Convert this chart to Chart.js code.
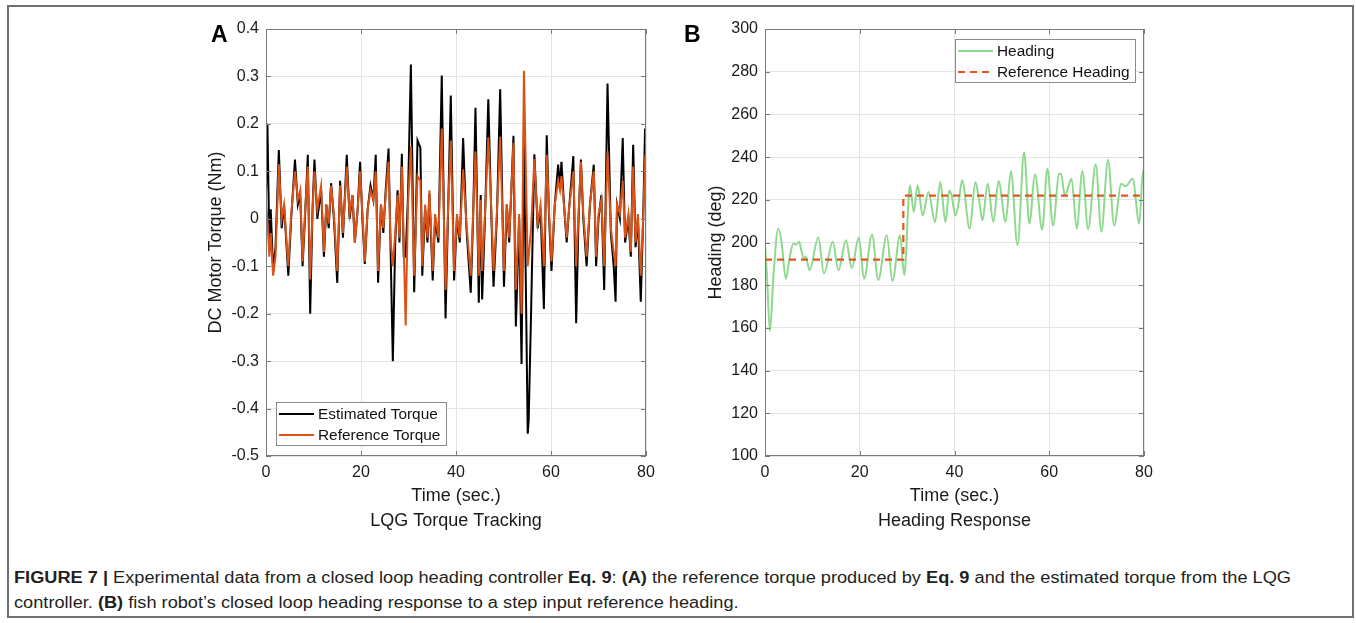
<!DOCTYPE html>
<html>
<head>
<meta charset="utf-8">
<script src="https://cdn.jsdelivr.net/npm/chart.js@4.4.1/dist/chart.umd.min.js"></script>
<style>
html,body{margin:0;padding:0;background:#fff;}
body{width:1356px;height:623px;position:relative;overflow:hidden;font-family:"Liberation Sans",Arial,sans-serif;}
#frame{position:absolute;left:7px;top:5px;width:1347px;height:613px;border:2px solid #707070;box-sizing:border-box;}
canvas{position:absolute;top:0;}
.panel{position:absolute;font-weight:bold;font-size:23px;line-height:23px;color:#000;}
.cap{position:absolute;left:14px;font-size:16px;line-height:20px;white-space:nowrap;color:#231f20;transform-origin:0 50%;}
.cap b{font-weight:bold;}
</style>
</head>
<body>
<div id="frame"></div>
<canvas id="chartA" width="500" height="540" style="left:180px"></canvas>
<canvas id="chartB" width="500" height="540" style="left:680px"></canvas>
<div class="panel" style="left:211px;top:23px">A</div>
<div class="panel" style="left:684px;top:23px">B</div>
<div id="cap1" class="cap" style="top:568px"><b>FIGURE 7 |</b> Experimental data from a closed loop heading controller <b>Eq. 9</b>: <b>(A)</b> the reference torque produced by <b>Eq. 9</b> and the estimated torque from the LQG</div>
<div id="cap2" class="cap" style="top:593px">controller. <b>(B)</b> fish robot’s closed loop heading response to a step input reference heading.</div>
<script>
// ---------- data ----------
const timeTicks = [0, 20, 40, 60, 80];
const torqueTicks = [-0.5, -0.4, -0.3, -0.2, -0.1, 0, 0.1, 0.2, 0.3, 0.4];
const headingTicks = [100, 120, 140, 160, 180, 200, 220, 240, 260, 280, 300];

const timeTorque = [0,0.3,0.7,1.0,1.5,2.0,2.7,3.3,3.8,4.7,5.3,6.1,6.7,7.2,7.7,8.2,8.8,9.3,9.8,10.2,10.8,11.6,12.2,12.7,13.2,13.7,14.3,15.0,15.6,16.2,17.0,17.6,18.2,18.7,19.3,19.8,20.3,20.8,21.4,22.0,22.6,23.1,23.6,24.2,24.7,25.2,25.8,26.2,26.7,27.2,27.7,28.1,28.6,29.0,29.4,29.9,30.5,31.2,31.9,32.5,32.9,33.5,34.0,34.4,35.1,35.6,36.3,37.0,37.8,38.3,38.9,39.6,40.2,40.8,41.5,42.2,43.1,43.6,44.1,44.8,45.2,45.5,46.1,46.8,47.4,47.9,48.6,49.3,50.1,50.7,51.2,52.1,52.6,53.3,53.8,54.3,55.1,55.3,55.8,56.5,57.2,57.8,58.5,59.1,59.6,60.1,60.8,61.5,61.9,62.2,62.8,63.3,63.8,64.7,65.3,65.8,66.3,66.8,67.5,68.2,69.0,69.5,70.0,70.6,71.2,71.9,72.6,73.2,73.6,73.9,74.5,75.1,75.6,76.3,76.8,77.3,77.8,78.3,78.9,79.4,79.8,80.0];
const estimatedTorque = [0.05,0.20,-0.05,0.02,-0.11,-0.06,0.145,-0.02,0.03,-0.12,0.00,0.125,0.03,0.05,-0.10,0.00,0.135,-0.20,0.02,0.125,0.00,0.06,-0.08,0.03,-0.02,0.075,0.00,-0.135,0.08,-0.04,0.135,0.00,0.05,-0.05,0.02,0.12,0.00,-0.095,0.02,0.07,0.04,0.135,-0.135,0.03,-0.03,0.06,0.148,-0.05,-0.30,-0.05,0.06,-0.05,0.137,-0.08,-0.08,0.05,0.325,-0.155,0.165,0.15,-0.12,0.02,-0.05,0.053,-0.13,0.00,-0.05,0.302,-0.21,0.00,0.26,-0.13,0.00,-0.05,0.17,-0.02,-0.156,0.00,0.234,-0.177,0.05,-0.17,0.00,0.252,0.02,-0.143,0.00,0.273,-0.143,0.03,-0.05,0.175,-0.227,0.00,-0.306,0.185,-0.453,-0.425,-0.20,0.136,-0.02,0.02,-0.19,0.176,0.00,-0.11,0.03,0.114,0.07,0.12,0.02,-0.05,0.02,0.132,-0.22,0.00,0.125,0.00,-0.10,0.03,0.114,-0.10,0.00,0.05,-0.15,0.285,-0.03,-0.10,-0.175,0.03,0.00,0.17,-0.05,0.00,-0.08,0.156,-0.06,0.00,-0.175,0.00,0.19,0.16];
const referenceTorque = [0.03,0.00,-0.08,-0.03,-0.12,-0.08,0.115,0.00,0.03,-0.10,0.01,0.10,0.04,0.06,-0.09,0.01,0.11,-0.128,0.02,0.10,0.02,0.07,-0.07,0.03,-0.01,0.07,0.01,-0.11,0.07,-0.03,0.11,0.01,0.05,-0.05,0.02,0.10,0.01,-0.09,0.02,0.06,0.04,0.10,-0.11,0.03,-0.02,0.05,0.12,-0.04,-0.10,-0.03,0.05,-0.04,0.11,-0.06,-0.225,0.03,0.153,-0.12,0.09,0.08,-0.10,0.03,-0.04,0.06,-0.11,0.01,-0.04,0.19,-0.15,0.01,0.165,-0.11,0.01,-0.04,0.104,-0.01,-0.12,0.01,0.142,-0.12,0.04,-0.11,0.01,0.172,0.03,-0.11,0.01,0.173,-0.11,0.03,-0.04,0.16,-0.15,0.01,-0.20,0.312,-0.10,-0.08,-0.02,0.126,-0.01,0.03,-0.10,0.135,0.01,-0.09,0.03,0.08,0.06,0.09,0.02,-0.04,0.02,0.10,-0.10,0.01,0.12,0.01,-0.08,0.03,0.10,-0.08,0.01,0.04,-0.10,0.142,-0.02,-0.07,-0.10,0.03,0.01,0.08,-0.04,0.01,-0.07,0.11,-0.05,0.01,-0.12,0.00,0.12,0.11];

const timeHeading = [0,0.4,1.05,1.8,2.8,3.5,4.4,5.2,6.0,6.6,7.2,7.7,8.2,8.6,9.4,11.25,12.45,14.3,15.5,17.1,18.3,19.8,20.9,22.6,23.9,25.7,26.9,28.5,29.4,30.6,31.4,32.2,33.3,34.5,35.9,37.0,38.1,38.9,39.4,40.2,40.9,41.6,43.2,44.4,45.1,45.9,47.0,48.2,49.3,50.8,51.9,53.3,54.7,55.8,57.0,58.5,59.6,60.8,62.1,62.5,63.3,64.7,65.8,67.0,68.2,69.8,71.0,72.4,73.7,75.2,76.1,77.6,79.0,79.8,80.0];
const heading = [199.5,185,158.5,185,206.5,200,183,193,199.5,199,200.3,196,192.5,193.5,187,202.3,185.5,200.3,187,201,188,202.3,183,203.7,182.4,203.4,182,203.4,184.7,226.8,214.3,226.8,212.7,223.6,209.6,228.3,209.6,224.4,222,212.7,219,229.1,206.5,228.3,221.3,210.4,227.5,209.6,228.8,209.6,233.5,198.7,242.3,208.8,231.9,206,234.5,208,232.2,232,222,229.9,206.5,233.5,206.2,236.6,205,238.8,208,227.5,226.3,229.9,208.8,233.8,232];
const timeRefHeading = [0, 29.2, 29.2, 80];
const refHeading = [192, 192, 222, 222];

// ---------- helpers ----------
const FONT = '"Liberation Sans", Arial, sans-serif';
const pts = (xs, ys) => xs.map((x, i) => ({x: x, y: ys[i]}));

const matlabBox = {
  id: 'matlabBox',
  afterDatasetsDraw(chart, args, opts) {
    const {ctx, chartArea: a, scales: {x, y}} = chart;
    ctx.save();
    ctx.lineWidth = 1;
    ctx.strokeStyle = '#7a7a7a';
    ctx.setLineDash([]);
    ctx.strokeRect(Math.round(a.left) + 0.5, Math.round(a.top) + 0.5, Math.round(a.right - a.left) - 1, Math.round(a.bottom - a.top) - 1);
    ctx.beginPath();
    x.ticks.forEach(t => {
      const px = Math.round(x.getPixelForValue(t.value)) + 0.5;
      ctx.moveTo(px, a.bottom); ctx.lineTo(px, a.bottom - 5);
      ctx.moveTo(px, a.top); ctx.lineTo(px, a.top + 5);
    });
    y.ticks.forEach(t => {
      const py = Math.round(y.getPixelForValue(t.value)) + 0.5;
      ctx.moveTo(a.left, py); ctx.lineTo(a.left + 5, py);
      ctx.moveTo(a.right, py); ctx.lineTo(a.right - 5, py);
    });
    ctx.stroke();
    // legend box (MATLAB style)
    const bw = opts.width, bh = 43;
    let bx, by;
    if (opts.corner === 'sw') { bx = Math.round(a.left + 10); by = Math.round(a.bottom - 11 - bh); }
    else { bx = Math.round(a.right - 9 - bw); by = Math.round(a.top + 10); }
    ctx.fillStyle = '#fff';
    ctx.fillRect(bx, by, bw, bh);
    ctx.strokeStyle = '#8a8a8a';
    ctx.strokeRect(bx + 0.5, by + 0.5, bw, bh);
    chart.data.datasets.forEach((ds, i) => {
      const ry = by + 12 + i * 21;
      ctx.strokeStyle = ds.borderColor;
      ctx.lineWidth = ds.borderWidth;
      ctx.setLineDash(ds.borderDash || []);
      ctx.beginPath(); ctx.moveTo(bx + 3, ry); ctx.lineTo(bx + 38, ry); ctx.stroke();
      ctx.setLineDash([]);
      ctx.fillStyle = '#111';
      ctx.font = '15.4px ' + FONT;
      ctx.textBaseline = 'middle';
      ctx.textAlign = 'left';
      ctx.fillText(ds.label, bx + 42, ry + 1);
    });
    ctx.restore();
  }
};

function makeOptions(cfg) {
  return {
    responsive: false,
    animation: false,
    devicePixelRatio: 1,
    layout: {padding: {top: 29, right: cfg.padRight, left: 0, bottom: 0}},
    plugins: {legend: {display: false}, tooltip: {enabled: false}, matlabBox: cfg.legend},
    elements: {point: {radius: 0}},
    scales: {
      x: {
        type: 'linear', min: 0, max: 80,
        afterBuildTicks: s => { s.ticks = timeTicks.map(v => ({value: v})); },
        afterFit: s => { s.height = 84; },
        grid: {color: '#e4e4e4', drawTicks: false, lineWidth: 1},
        border: {display: false},
        ticks: {padding: 7, color: '#1a1a1a', font: {family: FONT, size: 16}, maxRotation: 0, callback: v => String(v)},
        title: {display: true, text: ['Time (sec.)', cfg.subtitle], color: '#1a1a1a',
                font: {family: FONT, size: 18, lineHeight: '25px'}, padding: {top: 0, bottom: 6.5}}
      },
      y: {
        type: 'linear', min: cfg.yTicks[0], max: cfg.yTicks[cfg.yTicks.length - 1],
        afterBuildTicks: s => { s.ticks = cfg.yTicks.map(v => ({value: v})); },
        afterFit: s => { s.width = cfg.yWidth; },
        grid: {color: '#e4e4e4', drawTicks: false, lineWidth: 1},
        border: {display: false},
        ticks: {padding: 7, color: '#1a1a1a', font: {family: FONT, size: 16}, callback: v => String(v)},
        title: {display: true, text: cfg.yTitle, color: '#1a1a1a',
                font: {family: FONT, size: 18, lineHeight: 1.2}, padding: {top: 25, bottom: 0}}
      }
    }
  };
}

new Chart(document.getElementById('chartA'), {
  type: 'line',
  data: {
    datasets: [
      {label: 'Estimated Torque', data: pts(timeTorque, estimatedTorque), borderColor: '#000000', borderWidth: 2, tension: 0, order: 1},
      {label: 'Reference Torque', data: pts(timeTorque, referenceTorque), borderColor: '#D95319', borderWidth: 2, tension: 0, order: 0}
    ]
  },
  options: makeOptions({padRight: 34, yWidth: 86, yTicks: torqueTicks, yTitle: 'DC Motor Torque (Nm)', subtitle: 'LQG Torque Tracking', legend: {corner: 'sw', width: 170}}),
  plugins: [matlabBox]
});

new Chart(document.getElementById('chartB'), {
  type: 'line',
  data: {
    datasets: [
      {label: 'Heading', data: pts(timeHeading, heading), borderColor: '#8fd98f', borderWidth: 2, cubicInterpolationMode: 'monotone', order: 1},
      {label: 'Reference Heading', data: pts(timeRefHeading, refHeading), borderColor: '#E4541C', borderWidth: 2.2, borderDash: [7, 5], tension: 0, order: 0}
    ]
  },
  options: makeOptions({padRight: 36, yWidth: 85, yTicks: headingTicks, yTitle: 'Heading (deg)', subtitle: 'Heading Response', legend: {corner: 'ne', width: 180}}),
  plugins: [matlabBox]
});

// fit caption to the reference line width
(function () {
  const c1 = document.getElementById('cap1'), c2 = document.getElementById('cap2');
  const w = c1.getBoundingClientRect().width;
  const k = 1277 / w;
  c1.style.transform = 'scaleX(' + k + ')';
  c2.style.transform = 'scaleX(' + k + ')';
})();
</script>
</body>
</html>
